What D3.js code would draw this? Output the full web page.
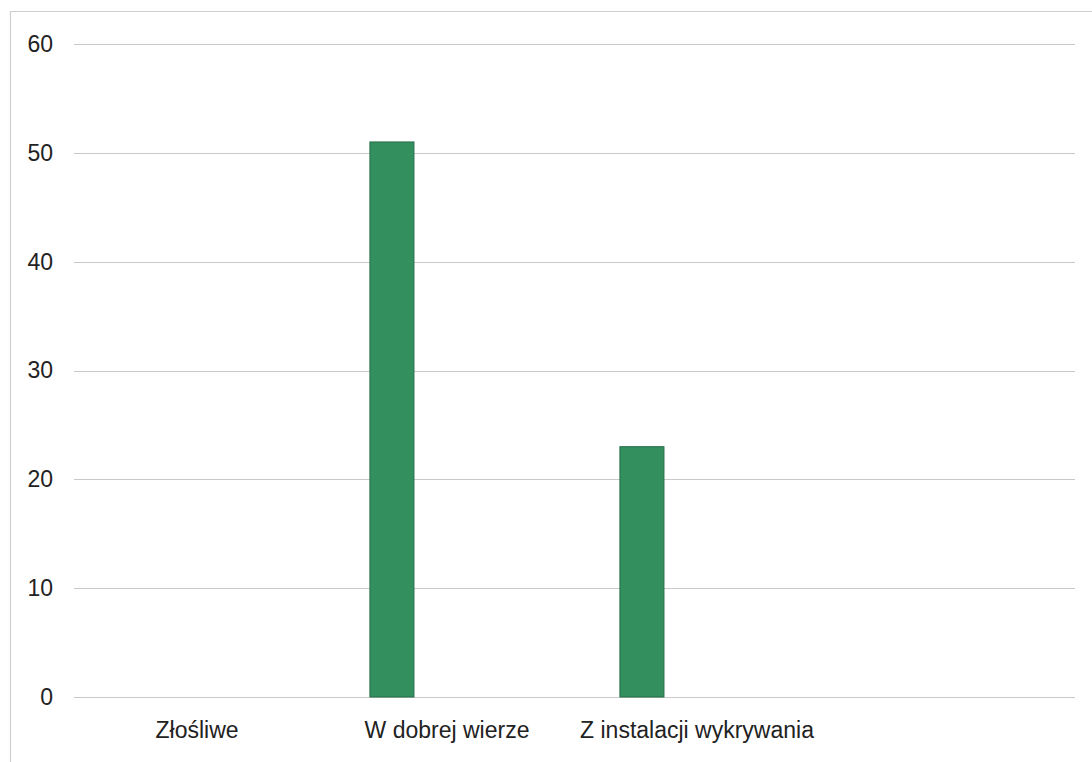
<!DOCTYPE html>
<html>
<head>
<meta charset="utf-8">
<script src="https://cdn.jsdelivr.net/npm/d3@7"></script>
<style>
  html, body { margin: 0; padding: 0; background: #fff; }
  svg { display: block; }
  text { font-family: "Liberation Sans", Arial, sans-serif; fill: #222; }
</style>
</head>
<body>
<script>
const categories = ["Złośliwe", "W dobrej wierze", "Z instalacji wykrywania", ""];
const values = [0, 51, 23, 0];
const yTicks = [0, 10, 20, 30, 40, 50, 60];
const slots = [0, 1, 2]; // bar slots within each category; the data occupies the first slot

const W = 1092, H = 762;

const svg = d3.select("body").append("svg").attr("width", W).attr("height", H);

// outer frame (scanned chart border)
svg.append("path")
  .attr("d", `M10.5,${H} L10.5,11.5 L${W},11.5`)
  .attr("fill", "none").attr("stroke", "#cfcfcf").attr("stroke-width", 1.2);

const x = d3.scaleBand().domain(categories.map((c, i) => i)).range([72, 1072]).padding(0);
const xs = d3.scaleBand().domain(slots).range([0, x.bandwidth()]).paddingInner(0.2).paddingOuter(0.87);
const y = d3.scaleLinear().domain([0, 60]).range([697, 44]);

// gridlines
svg.append("g").selectAll("line").data(yTicks).join("line")
  .attr("x1", 74).attr("x2", 1075)
  .attr("y1", d => Math.round(y(d)) + 0.5).attr("y2", d => Math.round(y(d)) + 0.5)
  .attr("stroke", "#c9c9c9").attr("stroke-width", 1);

// y axis labels
const yAxis = d3.axisLeft(y).tickValues(yTicks).tickSize(0).tickPadding(0);
const yg = svg.append("g").attr("transform", `translate(53,0)`).call(yAxis);
yg.select(".domain").remove();
yg.selectAll("text").attr("font-size", 23).attr("fill", "#222")
  .attr("font-family", "Liberation Sans, Arial, sans-serif");

// bars
svg.append("g").selectAll("rect").data(values).join("rect")
  .attr("x", (d, i) => x(i) + xs(0))
  .attr("width", xs.bandwidth())
  .attr("y", d => y(d))
  .attr("height", d => y(0) - y(d))
  .attr("fill", d => d > 0 ? "#348f5e" : "none")
  .attr("stroke", d => d > 0 ? "#256f49" : "none")
  .attr("stroke-width", 1);

// x axis labels
const xAxis = d3.axisBottom(x).tickFormat(i => categories[i]).tickSize(0).tickPadding(0);
const xg = svg.append("g").attr("transform", `translate(0,722)`).call(xAxis);
xg.select(".domain").remove();
xg.selectAll("text").attr("font-size", 23).attr("fill", "#222")
  .attr("font-family", "Liberation Sans, Arial, sans-serif");
</script>
</body>
</html>
